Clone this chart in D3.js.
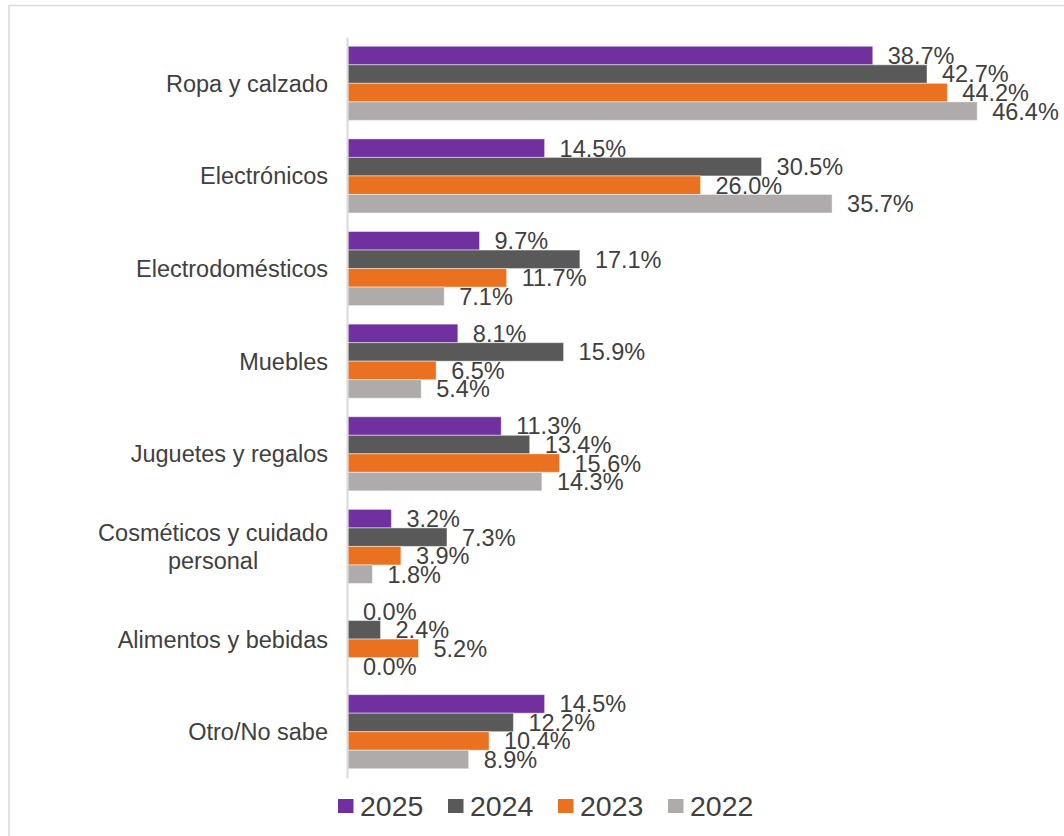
<!DOCTYPE html>
<html>
<head>
<meta charset="utf-8">
<script src="https://cdn.jsdelivr.net/npm/d3@7"></script>
<style>
  html, body { margin: 0; padding: 0; background: #ffffff; }
  svg { display: block; }
  text { font-family: "Liberation Sans", Arial, sans-serif; fill: #404040; }
</style>
</head>
<body>
<svg id="chart" width="1064" height="836"></svg>
<script>
// ---- Data ----
const categories = [
  "Ropa y calzado",
  "Electrónicos",
  "Electrodomésticos",
  "Muebles",
  "Juguetes y regalos",
  "Cosméticos y cuidado personal",
  "Alimentos y bebidas",
  "Otro/No sabe"
];
const seriesNames = ["2025", "2024", "2023", "2022"];
const values2025 = [38.7, 14.5, 9.7, 8.1, 11.3, 3.2, 0.0, 14.5];
const values2024 = [42.7, 30.5, 17.1, 15.9, 13.4, 7.3, 2.4, 12.2];
const values2023 = [44.2, 26.0, 11.7, 6.5, 15.6, 3.9, 5.2, 10.4];
const values2022 = [46.4, 35.7, 7.1, 5.4, 14.3, 1.8, 0.0, 8.9];
const colors = ["#7030A0", "#595959", "#E97120", "#AFABAB"];

const seriesValues = [values2025, values2024, values2023, values2022];
const rows = categories.map((c, i) => ({
  category: c,
  values: seriesNames.map((s, j) => ({ series: s, value: seriesValues[j][i], color: colors[j] }))
}));

// ---- Layout ----
const svg = d3.select("#chart");

// outer chart frame (extends past right and bottom edges)
svg.append("rect")
  .attr("x", 9).attr("y", 5.5)
  .attr("width", 1100).attr("height", 900)
  .attr("fill", "none")
  .attr("stroke", "#D9D9D9")
  .attr("stroke-width", 1.5);

const x = d3.scaleLinear().domain([0, 50]).range([348, 1026]);
const y = d3.scaleBand().domain(categories).range([37, 778]).paddingInner(0.2).paddingOuter(0.1);
const ySub = d3.scaleBand().domain(seriesNames).range([0, y.bandwidth()]).padding(0);

// bars
const groups = svg.append("g").selectAll("g")
  .data(rows).join("g")
  .attr("transform", d => `translate(0,${y(d.category)})`);

groups.selectAll("rect")
  .data(d => d.values).join("rect")
  .attr("x", x(0))
  .attr("y", d => ySub(d.series))
  .attr("width", d => x(d.value) - x(0))
  .attr("height", ySub.bandwidth())
  .attr("fill", d => d.color)
  .attr("stroke", "rgba(255,255,255,0.45)")
  .attr("stroke-width", 1);

// value labels
groups.selectAll("text")
  .data(d => d.values).join("text")
  .attr("x", d => x(d.value) + 15)
  .attr("y", d => ySub(d.series) + ySub.bandwidth() / 2)
  .attr("dy", "0.36em")
  .attr("font-size", "23.5px")
  .text(d => d.value.toFixed(1) + "%");

// category axis line
const yAxis = d3.axisLeft(y).tickSize(0).tickFormat("");
const axisG = svg.append("g").attr("transform", `translate(${x(0) - 1},0)`).call(yAxis);
axisG.select(".domain").attr("stroke", "#D9D9D9").attr("stroke-width", 2);

// category labels (wrapped, centred block, right-aligned to axis)
const labelRight = 328;
const lineH = 28.5;
categories.forEach(c => {
  let lines = [c];
  if (c === "Cosméticos y cuidado personal") lines = ["Cosméticos y cuidado", "personal"];
  const cy = y(c) + y.bandwidth() / 2;
  const t = svg.append("text")
    .attr("font-size", "23.5px")
    .attr("text-anchor", "middle");
  lines.forEach((ln, k) => {
    t.append("tspan")
      .attr("x", 0)
      .attr("y", cy + (k - (lines.length - 1) / 2) * lineH)
      .attr("dy", "0.36em")
      .text(ln);
  });
  // right-align the block
  const w = t.node().getBBox().width;
  t.selectAll("tspan").attr("x", labelRight - w / 2);
});

// legend
const legend = svg.append("g").attr("transform", "translate(338,799)");
const li = legend.selectAll("g").data(seriesNames).join("g")
  .attr("transform", (d, i) => `translate(${i * 110},0)`);
li.append("rect").attr("width", 15.5).attr("height", 14)
  .attr("fill", (d, i) => colors[i]);
li.append("text").attr("x", 22).attr("y", 17)
  .attr("font-size", "28.5px")
  .text(d => d);
</script>
</body>
</html>
